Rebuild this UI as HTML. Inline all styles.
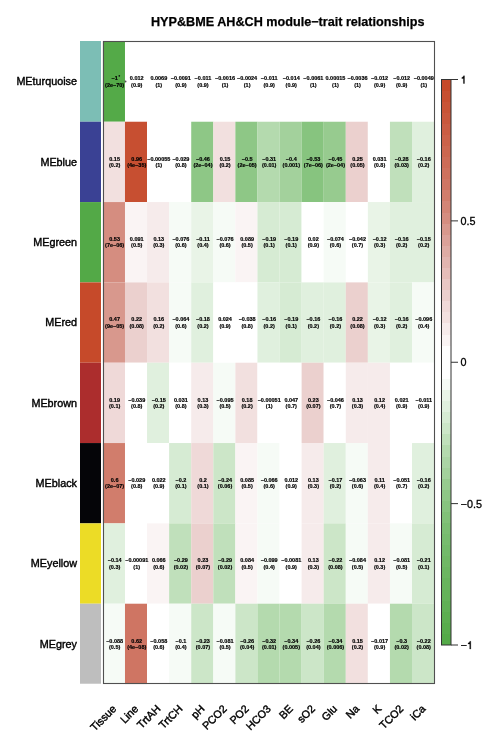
<!DOCTYPE html><html><head><meta charset="utf-8"><style>html,body{margin:0;padding:0;background:#fff;}svg{display:block;will-change:transform;}text{font-family:"Liberation Sans",sans-serif;}</style></head><body><svg width="499" height="747" viewBox="0 0 499 747"><rect width="499" height="747" fill="#fff"/><text x="151" y="26.3" font-size="12.64" font-weight="bold" fill="#000" stroke="#000" stroke-width="0.25">HYP&amp;BME AH&amp;CH module−trait relationships</text><rect x="80" y="41.00" width="21" height="80.73" fill="#7cbeb5"/><rect x="80" y="121.73" width="21" height="80.33" fill="#3a4194"/><rect x="80" y="202.06" width="21" height="80.33" fill="#53a947"/><rect x="80" y="282.39" width="21" height="80.33" fill="#c64a2a"/><rect x="80" y="362.72" width="21" height="80.33" fill="#ac2d2d"/><rect x="80" y="443.05" width="21" height="80.33" fill="#050508"/><rect x="80" y="523.38" width="21" height="80.33" fill="#ecdc26"/><rect x="80" y="603.71" width="21" height="80.03" fill="#bebebe"/><rect x="102.90" y="41.40" width="22.10" height="80.35" fill="#54aa48"/><rect x="124.98" y="41.40" width="22.10" height="80.35" fill="#ffffff"/><rect x="147.06" y="41.40" width="22.10" height="80.35" fill="#ffffff"/><rect x="169.14" y="41.40" width="22.10" height="80.35" fill="#ffffff"/><rect x="191.22" y="41.40" width="22.10" height="80.35" fill="#ffffff"/><rect x="213.30" y="41.40" width="22.10" height="80.35" fill="#ffffff"/><rect x="235.38" y="41.40" width="22.10" height="80.35" fill="#ffffff"/><rect x="257.46" y="41.40" width="22.10" height="80.35" fill="#ffffff"/><rect x="279.54" y="41.40" width="22.10" height="80.35" fill="#ffffff"/><rect x="301.62" y="41.40" width="22.10" height="80.35" fill="#ffffff"/><rect x="323.70" y="41.40" width="22.10" height="80.35" fill="#ffffff"/><rect x="345.78" y="41.40" width="22.10" height="80.35" fill="#ffffff"/><rect x="367.86" y="41.40" width="22.10" height="80.35" fill="#ffffff"/><rect x="389.94" y="41.40" width="22.10" height="80.35" fill="#ffffff"/><rect x="412.02" y="41.40" width="22.10" height="80.35" fill="#ffffff"/><rect x="102.90" y="121.73" width="22.10" height="80.35" fill="#f2e0df"/><rect x="124.98" y="121.73" width="22.10" height="80.35" fill="#c74f31"/><rect x="147.06" y="121.73" width="22.10" height="80.35" fill="#ffffff"/><rect x="169.14" y="121.73" width="22.10" height="80.35" fill="#ffffff"/><rect x="191.22" y="121.73" width="22.10" height="80.35" fill="#8ec786"/><rect x="213.30" y="121.73" width="22.10" height="80.35" fill="#f2e0df"/><rect x="235.38" y="121.73" width="22.10" height="80.35" fill="#8ec786"/><rect x="257.46" y="121.73" width="22.10" height="80.35" fill="#b4daae"/><rect x="279.54" y="121.73" width="22.10" height="80.35" fill="#a3d19c"/><rect x="301.62" y="121.73" width="22.10" height="80.35" fill="#87c47f"/><rect x="323.70" y="121.73" width="22.10" height="80.35" fill="#97cb8f"/><rect x="345.78" y="121.73" width="22.10" height="80.35" fill="#ebd0ce"/><rect x="367.86" y="121.73" width="22.10" height="80.35" fill="#ffffff"/><rect x="389.94" y="121.73" width="22.10" height="80.35" fill="#c0e0bb"/><rect x="412.02" y="121.73" width="22.10" height="80.35" fill="#e0f0de"/><rect x="102.90" y="202.06" width="22.10" height="80.35" fill="#d58d80"/><rect x="124.98" y="202.06" width="22.10" height="80.35" fill="#faf4f4"/><rect x="147.06" y="202.06" width="22.10" height="80.35" fill="#f6ebeb"/><rect x="169.14" y="202.06" width="22.10" height="80.35" fill="#f6fbf6"/><rect x="191.22" y="202.06" width="22.10" height="80.35" fill="#e9f4e7"/><rect x="213.30" y="202.06" width="22.10" height="80.35" fill="#f6fbf6"/><rect x="235.38" y="202.06" width="22.10" height="80.35" fill="#faf4f4"/><rect x="257.46" y="202.06" width="22.10" height="80.35" fill="#d6ebd3"/><rect x="279.54" y="202.06" width="22.10" height="80.35" fill="#d6ebd3"/><rect x="301.62" y="202.06" width="22.10" height="80.35" fill="#ffffff"/><rect x="323.70" y="202.06" width="22.10" height="80.35" fill="#f6fbf6"/><rect x="345.78" y="202.06" width="22.10" height="80.35" fill="#ffffff"/><rect x="367.86" y="202.06" width="22.10" height="80.35" fill="#e9f4e7"/><rect x="389.94" y="202.06" width="22.10" height="80.35" fill="#e0f0de"/><rect x="412.02" y="202.06" width="22.10" height="80.35" fill="#e0f0de"/><rect x="102.90" y="282.39" width="22.10" height="80.35" fill="#d8988d"/><rect x="124.98" y="282.39" width="22.10" height="80.35" fill="#ebd0ce"/><rect x="147.06" y="282.39" width="22.10" height="80.35" fill="#f2e0df"/><rect x="169.14" y="282.39" width="22.10" height="80.35" fill="#f6fbf6"/><rect x="191.22" y="282.39" width="22.10" height="80.35" fill="#e0f0de"/><rect x="213.30" y="282.39" width="22.10" height="80.35" fill="#ffffff"/><rect x="235.38" y="282.39" width="22.10" height="80.35" fill="#ffffff"/><rect x="257.46" y="282.39" width="22.10" height="80.35" fill="#e0f0de"/><rect x="279.54" y="282.39" width="22.10" height="80.35" fill="#d6ebd3"/><rect x="301.62" y="282.39" width="22.10" height="80.35" fill="#e0f0de"/><rect x="323.70" y="282.39" width="22.10" height="80.35" fill="#e0f0de"/><rect x="345.78" y="282.39" width="22.10" height="80.35" fill="#ebd0ce"/><rect x="367.86" y="282.39" width="22.10" height="80.35" fill="#e9f4e7"/><rect x="389.94" y="282.39" width="22.10" height="80.35" fill="#e0f0de"/><rect x="412.02" y="282.39" width="22.10" height="80.35" fill="#f6fbf6"/><rect x="102.90" y="362.72" width="22.10" height="80.35" fill="#efd9d8"/><rect x="124.98" y="362.72" width="22.10" height="80.35" fill="#ffffff"/><rect x="147.06" y="362.72" width="22.10" height="80.35" fill="#e0f0de"/><rect x="169.14" y="362.72" width="22.10" height="80.35" fill="#ffffff"/><rect x="191.22" y="362.72" width="22.10" height="80.35" fill="#f6ebeb"/><rect x="213.30" y="362.72" width="22.10" height="80.35" fill="#f6fbf6"/><rect x="235.38" y="362.72" width="22.10" height="80.35" fill="#f2e0df"/><rect x="257.46" y="362.72" width="22.10" height="80.35" fill="#ffffff"/><rect x="279.54" y="362.72" width="22.10" height="80.35" fill="#ffffff"/><rect x="301.62" y="362.72" width="22.10" height="80.35" fill="#ebd0ce"/><rect x="323.70" y="362.72" width="22.10" height="80.35" fill="#ffffff"/><rect x="345.78" y="362.72" width="22.10" height="80.35" fill="#f6ebeb"/><rect x="367.86" y="362.72" width="22.10" height="80.35" fill="#f6ebeb"/><rect x="389.94" y="362.72" width="22.10" height="80.35" fill="#ffffff"/><rect x="412.02" y="362.72" width="22.10" height="80.35" fill="#ffffff"/><rect x="102.90" y="443.05" width="22.10" height="80.35" fill="#d17d6c"/><rect x="124.98" y="443.05" width="22.10" height="80.35" fill="#ffffff"/><rect x="147.06" y="443.05" width="22.10" height="80.35" fill="#ffffff"/><rect x="169.14" y="443.05" width="22.10" height="80.35" fill="#d6ebd3"/><rect x="191.22" y="443.05" width="22.10" height="80.35" fill="#efd9d8"/><rect x="213.30" y="443.05" width="22.10" height="80.35" fill="#cce6c8"/><rect x="235.38" y="443.05" width="22.10" height="80.35" fill="#faf4f4"/><rect x="257.46" y="443.05" width="22.10" height="80.35" fill="#f6fbf6"/><rect x="279.54" y="443.05" width="22.10" height="80.35" fill="#ffffff"/><rect x="301.62" y="443.05" width="22.10" height="80.35" fill="#f6ebeb"/><rect x="323.70" y="443.05" width="22.10" height="80.35" fill="#e0f0de"/><rect x="345.78" y="443.05" width="22.10" height="80.35" fill="#f6fbf6"/><rect x="367.86" y="443.05" width="22.10" height="80.35" fill="#f6ebeb"/><rect x="389.94" y="443.05" width="22.10" height="80.35" fill="#ffffff"/><rect x="412.02" y="443.05" width="22.10" height="80.35" fill="#e0f0de"/><rect x="102.90" y="523.38" width="22.10" height="80.35" fill="#e0f0de"/><rect x="124.98" y="523.38" width="22.10" height="80.35" fill="#ffffff"/><rect x="147.06" y="523.38" width="22.10" height="80.35" fill="#faf4f4"/><rect x="169.14" y="523.38" width="22.10" height="80.35" fill="#c0e0bb"/><rect x="191.22" y="523.38" width="22.10" height="80.35" fill="#ebd0ce"/><rect x="213.30" y="523.38" width="22.10" height="80.35" fill="#c0e0bb"/><rect x="235.38" y="523.38" width="22.10" height="80.35" fill="#faf4f4"/><rect x="257.46" y="523.38" width="22.10" height="80.35" fill="#f6fbf6"/><rect x="279.54" y="523.38" width="22.10" height="80.35" fill="#ffffff"/><rect x="301.62" y="523.38" width="22.10" height="80.35" fill="#f6ebeb"/><rect x="323.70" y="523.38" width="22.10" height="80.35" fill="#cce6c8"/><rect x="345.78" y="523.38" width="22.10" height="80.35" fill="#f6fbf6"/><rect x="367.86" y="523.38" width="22.10" height="80.35" fill="#f6ebeb"/><rect x="389.94" y="523.38" width="22.10" height="80.35" fill="#f6fbf6"/><rect x="412.02" y="523.38" width="22.10" height="80.35" fill="#d6ebd3"/><rect x="102.90" y="603.71" width="22.10" height="80.35" fill="#f6fbf6"/><rect x="124.98" y="603.71" width="22.10" height="80.35" fill="#cf7563"/><rect x="147.06" y="603.71" width="22.10" height="80.35" fill="#ffffff"/><rect x="169.14" y="603.71" width="22.10" height="80.35" fill="#f6fbf6"/><rect x="191.22" y="603.71" width="22.10" height="80.35" fill="#cce6c8"/><rect x="213.30" y="603.71" width="22.10" height="80.35" fill="#f6fbf6"/><rect x="235.38" y="603.71" width="22.10" height="80.35" fill="#cce6c8"/><rect x="257.46" y="603.71" width="22.10" height="80.35" fill="#b4daae"/><rect x="279.54" y="603.71" width="22.10" height="80.35" fill="#b4daae"/><rect x="301.62" y="603.71" width="22.10" height="80.35" fill="#cce6c8"/><rect x="323.70" y="603.71" width="22.10" height="80.35" fill="#b4daae"/><rect x="345.78" y="603.71" width="22.10" height="80.35" fill="#f2e0df"/><rect x="367.86" y="603.71" width="22.10" height="80.35" fill="#ffffff"/><rect x="389.94" y="603.71" width="22.10" height="80.35" fill="#b4daae"/><rect x="412.02" y="603.71" width="22.10" height="80.35" fill="#cce6c8"/><g font-size="5.5" font-weight="bold" fill="#000" stroke="#000" stroke-width="0.18" text-anchor="middle"><text x="114.64" y="80.27">−1</text><text x="114.64" y="86.56">(2e−70)</text><text x="136.72" y="80.27">0.012</text><text x="136.72" y="86.56">(0.9)</text><text x="158.80" y="80.27">0.0069</text><text x="158.80" y="86.56">(1)</text><text x="180.88" y="80.27">−0.0091</text><text x="180.88" y="86.56">(0.9)</text><text x="202.96" y="80.27">−0.011</text><text x="202.96" y="86.56">(0.9)</text><text x="225.04" y="80.27">−0.0016</text><text x="225.04" y="86.56">(1)</text><text x="247.12" y="80.27">−0.0024</text><text x="247.12" y="86.56">(1)</text><text x="269.20" y="80.27">−0.011</text><text x="269.20" y="86.56">(0.9)</text><text x="291.28" y="80.27">−0.014</text><text x="291.28" y="86.56">(0.9)</text><text x="313.36" y="80.27">−0.0061</text><text x="313.36" y="86.56">(1)</text><text x="335.44" y="80.27">0.00015</text><text x="335.44" y="86.56">(1)</text><text x="357.52" y="80.27">−0.0036</text><text x="357.52" y="86.56">(1)</text><text x="379.60" y="80.27">−0.012</text><text x="379.60" y="86.56">(0.9)</text><text x="401.68" y="80.27">−0.012</text><text x="401.68" y="86.56">(0.9)</text><text x="423.76" y="80.27">−0.0049</text><text x="423.76" y="86.56">(1)</text><text x="114.64" y="160.59">0.15</text><text x="114.64" y="166.90">(0.2)</text><text x="136.72" y="160.59">0.96</text><text x="136.72" y="166.90">(4e−35)</text><text x="158.80" y="160.59">−0.00055</text><text x="158.80" y="166.90">(1)</text><text x="180.88" y="160.59">−0.029</text><text x="180.88" y="166.90">(0.8)</text><text x="202.96" y="160.59">−0.46</text><text x="202.96" y="166.90">(2e−04)</text><text x="225.04" y="160.59">0.15</text><text x="225.04" y="166.90">(0.2)</text><text x="247.12" y="160.59">−0.5</text><text x="247.12" y="166.90">(2e−05)</text><text x="269.20" y="160.59">−0.31</text><text x="269.20" y="166.90">(0.01)</text><text x="291.28" y="160.59">−0.4</text><text x="291.28" y="166.90">(0.001)</text><text x="313.36" y="160.59">−0.53</text><text x="313.36" y="166.90">(7e−06)</text><text x="335.44" y="160.59">−0.45</text><text x="335.44" y="166.90">(2e−04)</text><text x="357.52" y="160.59">0.25</text><text x="357.52" y="166.90">(0.05)</text><text x="379.60" y="160.59">0.031</text><text x="379.60" y="166.90">(0.8)</text><text x="401.68" y="160.59">−0.28</text><text x="401.68" y="166.90">(0.03)</text><text x="423.76" y="160.59">−0.16</text><text x="423.76" y="166.90">(0.2)</text><text x="114.64" y="240.92">0.53</text><text x="114.64" y="247.22">(7e−06)</text><text x="136.72" y="240.92">0.091</text><text x="136.72" y="247.22">(0.5)</text><text x="158.80" y="240.92">0.13</text><text x="158.80" y="247.22">(0.3)</text><text x="180.88" y="240.92">−0.076</text><text x="180.88" y="247.22">(0.6)</text><text x="202.96" y="240.92">−0.11</text><text x="202.96" y="247.22">(0.4)</text><text x="225.04" y="240.92">−0.076</text><text x="225.04" y="247.22">(0.6)</text><text x="247.12" y="240.92">0.089</text><text x="247.12" y="247.22">(0.5)</text><text x="269.20" y="240.92">−0.19</text><text x="269.20" y="247.22">(0.1)</text><text x="291.28" y="240.92">−0.19</text><text x="291.28" y="247.22">(0.1)</text><text x="313.36" y="240.92">0.02</text><text x="313.36" y="247.22">(0.9)</text><text x="335.44" y="240.92">−0.074</text><text x="335.44" y="247.22">(0.6)</text><text x="357.52" y="240.92">−0.042</text><text x="357.52" y="247.22">(0.7)</text><text x="379.60" y="240.92">−0.12</text><text x="379.60" y="247.22">(0.3)</text><text x="401.68" y="240.92">−0.16</text><text x="401.68" y="247.22">(0.2)</text><text x="423.76" y="240.92">−0.15</text><text x="423.76" y="247.22">(0.2)</text><text x="114.64" y="321.25">0.47</text><text x="114.64" y="327.55">(9e−05)</text><text x="136.72" y="321.25">0.22</text><text x="136.72" y="327.55">(0.08)</text><text x="158.80" y="321.25">0.16</text><text x="158.80" y="327.55">(0.2)</text><text x="180.88" y="321.25">−0.064</text><text x="180.88" y="327.55">(0.6)</text><text x="202.96" y="321.25">−0.18</text><text x="202.96" y="327.55">(0.2)</text><text x="225.04" y="321.25">0.024</text><text x="225.04" y="327.55">(0.9)</text><text x="247.12" y="321.25">−0.038</text><text x="247.12" y="327.55">(0.8)</text><text x="269.20" y="321.25">−0.16</text><text x="269.20" y="327.55">(0.2)</text><text x="291.28" y="321.25">−0.19</text><text x="291.28" y="327.55">(0.1)</text><text x="313.36" y="321.25">−0.16</text><text x="313.36" y="327.55">(0.2)</text><text x="335.44" y="321.25">−0.16</text><text x="335.44" y="327.55">(0.2)</text><text x="357.52" y="321.25">0.22</text><text x="357.52" y="327.55">(0.08)</text><text x="379.60" y="321.25">−0.12</text><text x="379.60" y="327.55">(0.3)</text><text x="401.68" y="321.25">−0.16</text><text x="401.68" y="327.55">(0.2)</text><text x="423.76" y="321.25">−0.096</text><text x="423.76" y="327.55">(0.4)</text><text x="114.64" y="401.58">0.19</text><text x="114.64" y="407.88">(0.1)</text><text x="136.72" y="401.58">−0.039</text><text x="136.72" y="407.88">(0.8)</text><text x="158.80" y="401.58">−0.15</text><text x="158.80" y="407.88">(0.2)</text><text x="180.88" y="401.58">0.031</text><text x="180.88" y="407.88">(0.8)</text><text x="202.96" y="401.58">0.13</text><text x="202.96" y="407.88">(0.3)</text><text x="225.04" y="401.58">−0.095</text><text x="225.04" y="407.88">(0.5)</text><text x="247.12" y="401.58">0.18</text><text x="247.12" y="407.88">(0.2)</text><text x="269.20" y="401.58">−0.00051</text><text x="269.20" y="407.88">(1)</text><text x="291.28" y="401.58">0.047</text><text x="291.28" y="407.88">(0.7)</text><text x="313.36" y="401.58">0.23</text><text x="313.36" y="407.88">(0.07)</text><text x="335.44" y="401.58">−0.046</text><text x="335.44" y="407.88">(0.7)</text><text x="357.52" y="401.58">0.13</text><text x="357.52" y="407.88">(0.3)</text><text x="379.60" y="401.58">0.12</text><text x="379.60" y="407.88">(0.4)</text><text x="401.68" y="401.58">0.021</text><text x="401.68" y="407.88">(0.9)</text><text x="423.76" y="401.58">−0.011</text><text x="423.76" y="407.88">(0.9)</text><text x="114.64" y="481.91">0.6</text><text x="114.64" y="488.21">(2e−07)</text><text x="136.72" y="481.91">−0.029</text><text x="136.72" y="488.21">(0.8)</text><text x="158.80" y="481.91">0.022</text><text x="158.80" y="488.21">(0.9)</text><text x="180.88" y="481.91">−0.2</text><text x="180.88" y="488.21">(0.1)</text><text x="202.96" y="481.91">0.2</text><text x="202.96" y="488.21">(0.1)</text><text x="225.04" y="481.91">−0.24</text><text x="225.04" y="488.21">(0.06)</text><text x="247.12" y="481.91">0.085</text><text x="247.12" y="488.21">(0.5)</text><text x="269.20" y="481.91">−0.066</text><text x="269.20" y="488.21">(0.6)</text><text x="291.28" y="481.91">0.012</text><text x="291.28" y="488.21">(0.9)</text><text x="313.36" y="481.91">0.13</text><text x="313.36" y="488.21">(0.3)</text><text x="335.44" y="481.91">−0.17</text><text x="335.44" y="488.21">(0.2)</text><text x="357.52" y="481.91">−0.063</text><text x="357.52" y="488.21">(0.6)</text><text x="379.60" y="481.91">0.11</text><text x="379.60" y="488.21">(0.4)</text><text x="401.68" y="481.91">−0.051</text><text x="401.68" y="488.21">(0.7)</text><text x="423.76" y="481.91">−0.16</text><text x="423.76" y="488.21">(0.2)</text><text x="114.64" y="562.25">−0.14</text><text x="114.64" y="568.54">(0.3)</text><text x="136.72" y="562.25">−0.00091</text><text x="136.72" y="568.54">(1)</text><text x="158.80" y="562.25">0.066</text><text x="158.80" y="568.54">(0.6)</text><text x="180.88" y="562.25">−0.29</text><text x="180.88" y="568.54">(0.02)</text><text x="202.96" y="562.25">0.23</text><text x="202.96" y="568.54">(0.07)</text><text x="225.04" y="562.25">−0.29</text><text x="225.04" y="568.54">(0.02)</text><text x="247.12" y="562.25">0.084</text><text x="247.12" y="568.54">(0.5)</text><text x="269.20" y="562.25">−0.099</text><text x="269.20" y="568.54">(0.4)</text><text x="291.28" y="562.25">−0.0081</text><text x="291.28" y="568.54">(0.9)</text><text x="313.36" y="562.25">0.13</text><text x="313.36" y="568.54">(0.3)</text><text x="335.44" y="562.25">−0.22</text><text x="335.44" y="568.54">(0.08)</text><text x="357.52" y="562.25">−0.084</text><text x="357.52" y="568.54">(0.5)</text><text x="379.60" y="562.25">0.12</text><text x="379.60" y="568.54">(0.3)</text><text x="401.68" y="562.25">−0.081</text><text x="401.68" y="568.54">(0.5)</text><text x="423.76" y="562.25">−0.21</text><text x="423.76" y="568.54">(0.1)</text><text x="114.64" y="642.58">−0.088</text><text x="114.64" y="648.88">(0.5)</text><text x="136.72" y="642.58">0.62</text><text x="136.72" y="648.88">(4e−08)</text><text x="158.80" y="642.58">−0.058</text><text x="158.80" y="648.88">(0.6)</text><text x="180.88" y="642.58">−0.1</text><text x="180.88" y="648.88">(0.4)</text><text x="202.96" y="642.58">−0.23</text><text x="202.96" y="648.88">(0.07)</text><text x="225.04" y="642.58">−0.081</text><text x="225.04" y="648.88">(0.5)</text><text x="247.12" y="642.58">−0.26</text><text x="247.12" y="648.88">(0.04)</text><text x="269.20" y="642.58">−0.32</text><text x="269.20" y="648.88">(0.01)</text><text x="291.28" y="642.58">−0.34</text><text x="291.28" y="648.88">(0.005)</text><text x="313.36" y="642.58">−0.26</text><text x="313.36" y="648.88">(0.04)</text><text x="335.44" y="642.58">−0.34</text><text x="335.44" y="648.88">(0.006)</text><text x="357.52" y="642.58">0.15</text><text x="357.52" y="648.88">(0.2)</text><text x="379.60" y="642.58">−0.017</text><text x="379.60" y="648.88">(0.9)</text><text x="401.68" y="642.58">−0.3</text><text x="401.68" y="648.88">(0.02)</text><text x="423.76" y="642.58">−0.22</text><text x="423.76" y="648.88">(0.08)</text></g><circle cx="119.3" cy="75.8" r="0.85" fill="#111"/><circle cx="125.5" cy="81.6" r="1.0" fill="#555"/><rect x="103.5" y="41.5" width="331" height="642" fill="none" stroke="#505050" stroke-width="1.1"/><g font-size="10.8" fill="#000" stroke="#000" stroke-width="0.4" text-anchor="end"><text x="77" y="85.47">MEturquoise</text><text x="77" y="165.80">MEblue</text><text x="77" y="246.12">MEgreen</text><text x="77" y="326.45">MEred</text><text x="77" y="406.78">MEbrown</text><text x="77" y="487.11">MEblack</text><text x="77" y="567.44">MEyellow</text><text x="77" y="647.77">MEgrey</text></g><g font-size="10.8" fill="#000" stroke="#000" stroke-width="0.4" text-anchor="end"><text transform="translate(117.04,709.5) rotate(-45)" x="0" y="0">Tissue</text><text transform="translate(139.12,709.5) rotate(-45)" x="0" y="0">Line</text><text transform="translate(161.20,709.5) rotate(-45)" x="0" y="0">TrtAH</text><text transform="translate(183.28,709.5) rotate(-45)" x="0" y="0">TrtCH</text><text transform="translate(205.36,709.5) rotate(-45)" x="0" y="0">pH</text><text transform="translate(227.44,709.5) rotate(-45)" x="0" y="0">PCO2</text><text transform="translate(249.52,709.5) rotate(-45)" x="0" y="0">PO2</text><text transform="translate(271.60,709.5) rotate(-45)" x="0" y="0">HCO3</text><text transform="translate(293.68,709.5) rotate(-45)" x="0" y="0">BE</text><text transform="translate(315.76,709.5) rotate(-45)" x="0" y="0">sO2</text><text transform="translate(337.84,709.5) rotate(-45)" x="0" y="0">Glu</text><text transform="translate(359.92,709.5) rotate(-45)" x="0" y="0">Na</text><text transform="translate(382.00,709.5) rotate(-45)" x="0" y="0">K</text><text transform="translate(404.08,709.5) rotate(-45)" x="0" y="0">TCO2</text><text transform="translate(426.16,709.5) rotate(-45)" x="0" y="0">iCa</text></g><defs><linearGradient id="lg" x1="0" y1="1" x2="0" y2="0"><stop offset="0.0000" stop-color="#54aa48"/><stop offset="0.0196" stop-color="#54aa48"/><stop offset="0.0196" stop-color="#58ac4c"/><stop offset="0.0392" stop-color="#58ac4c"/><stop offset="0.0392" stop-color="#5cae50"/><stop offset="0.0588" stop-color="#5cae50"/><stop offset="0.0588" stop-color="#60b055"/><stop offset="0.0784" stop-color="#60b055"/><stop offset="0.0784" stop-color="#64b259"/><stop offset="0.0980" stop-color="#64b259"/><stop offset="0.0980" stop-color="#68b45d"/><stop offset="0.1176" stop-color="#68b45d"/><stop offset="0.1176" stop-color="#6cb661"/><stop offset="0.1373" stop-color="#6cb661"/><stop offset="0.1373" stop-color="#70b865"/><stop offset="0.1569" stop-color="#70b865"/><stop offset="0.1569" stop-color="#73ba6a"/><stop offset="0.1765" stop-color="#73ba6a"/><stop offset="0.1765" stop-color="#77bc6e"/><stop offset="0.1961" stop-color="#77bc6e"/><stop offset="0.1961" stop-color="#7bbe72"/><stop offset="0.2157" stop-color="#7bbe72"/><stop offset="0.2157" stop-color="#81c178"/><stop offset="0.2353" stop-color="#81c178"/><stop offset="0.2353" stop-color="#87c47f"/><stop offset="0.2549" stop-color="#87c47f"/><stop offset="0.2549" stop-color="#8ec786"/><stop offset="0.2745" stop-color="#8ec786"/><stop offset="0.2745" stop-color="#97cb8f"/><stop offset="0.2941" stop-color="#97cb8f"/><stop offset="0.2941" stop-color="#a3d19c"/><stop offset="0.3137" stop-color="#a3d19c"/><stop offset="0.3137" stop-color="#abd5a5"/><stop offset="0.3333" stop-color="#abd5a5"/><stop offset="0.3333" stop-color="#b4daae"/><stop offset="0.3529" stop-color="#b4daae"/><stop offset="0.3529" stop-color="#c0e0bb"/><stop offset="0.3725" stop-color="#c0e0bb"/><stop offset="0.3725" stop-color="#cce6c8"/><stop offset="0.3922" stop-color="#cce6c8"/><stop offset="0.3922" stop-color="#d6ebd3"/><stop offset="0.4118" stop-color="#d6ebd3"/><stop offset="0.4118" stop-color="#e0f0de"/><stop offset="0.4314" stop-color="#e0f0de"/><stop offset="0.4314" stop-color="#e9f4e7"/><stop offset="0.4510" stop-color="#e9f4e7"/><stop offset="0.4510" stop-color="#f6fbf6"/><stop offset="0.4706" stop-color="#f6fbf6"/><stop offset="0.4706" stop-color="#ffffff"/><stop offset="0.4902" stop-color="#ffffff"/><stop offset="0.4902" stop-color="#ffffff"/><stop offset="0.5098" stop-color="#ffffff"/><stop offset="0.5098" stop-color="#ffffff"/><stop offset="0.5294" stop-color="#ffffff"/><stop offset="0.5294" stop-color="#faf4f4"/><stop offset="0.5490" stop-color="#faf4f4"/><stop offset="0.5490" stop-color="#f6ebeb"/><stop offset="0.5686" stop-color="#f6ebeb"/><stop offset="0.5686" stop-color="#f2e0df"/><stop offset="0.5882" stop-color="#f2e0df"/><stop offset="0.5882" stop-color="#efd9d8"/><stop offset="0.6078" stop-color="#efd9d8"/><stop offset="0.6078" stop-color="#ebd0ce"/><stop offset="0.6275" stop-color="#ebd0ce"/><stop offset="0.6275" stop-color="#e8c7c4"/><stop offset="0.6471" stop-color="#e8c7c4"/><stop offset="0.6471" stop-color="#e5bdb9"/><stop offset="0.6667" stop-color="#e5bdb9"/><stop offset="0.6667" stop-color="#e1b4af"/><stop offset="0.6863" stop-color="#e1b4af"/><stop offset="0.6863" stop-color="#deaba4"/><stop offset="0.7059" stop-color="#deaba4"/><stop offset="0.7059" stop-color="#dba199"/><stop offset="0.7255" stop-color="#dba199"/><stop offset="0.7255" stop-color="#d8988d"/><stop offset="0.7451" stop-color="#d8988d"/><stop offset="0.7451" stop-color="#d58d80"/><stop offset="0.7647" stop-color="#d58d80"/><stop offset="0.7647" stop-color="#d38576"/><stop offset="0.7843" stop-color="#d38576"/><stop offset="0.7843" stop-color="#d17d6c"/><stop offset="0.8039" stop-color="#d17d6c"/><stop offset="0.8039" stop-color="#cf7563"/><stop offset="0.8235" stop-color="#cf7563"/><stop offset="0.8235" stop-color="#ce715d"/><stop offset="0.8431" stop-color="#ce715d"/><stop offset="0.8431" stop-color="#cd6c57"/><stop offset="0.8627" stop-color="#cd6c57"/><stop offset="0.8627" stop-color="#cc6750"/><stop offset="0.8824" stop-color="#cc6750"/><stop offset="0.8824" stop-color="#cb624a"/><stop offset="0.9020" stop-color="#cb624a"/><stop offset="0.9020" stop-color="#ca5d44"/><stop offset="0.9216" stop-color="#ca5d44"/><stop offset="0.9216" stop-color="#c9583d"/><stop offset="0.9412" stop-color="#c9583d"/><stop offset="0.9412" stop-color="#c85437"/><stop offset="0.9608" stop-color="#c85437"/><stop offset="0.9608" stop-color="#c74f31"/><stop offset="0.9804" stop-color="#c74f31"/><stop offset="0.9804" stop-color="#c64a2a"/><stop offset="1.0000" stop-color="#c64a2a"/></linearGradient></defs><rect x="441.5" y="79.50" width="9.5" height="565.50" fill="url(#lg)" stroke="#333" stroke-width="1"/><g stroke="#333" stroke-width="1"><line x1="451" y1="79.50" x2="458" y2="79.50"/><line x1="451" y1="220.88" x2="458" y2="220.88"/><line x1="451" y1="362.25" x2="458" y2="362.25"/><line x1="451" y1="503.62" x2="458" y2="503.62"/><line x1="451" y1="645.00" x2="458" y2="645.00"/></g><g font-size="10.8" fill="#000" stroke="#000" stroke-width="0.3"><path transform="translate(460.60,83.50) scale(0.0108,-0.0108)" d="M357 0L262 0L262 470L112 470L112 545C200 556 252 610 274 709L357 709Z" stroke-width="28"/><text x="460.6" y="224.88">0.5</text><text x="460.6" y="366.25">0</text><text x="460.6" y="507.62">−0.5</text><text x="460.6" y="649.00">−</text><path transform="translate(466.91,649.00) scale(0.0108,-0.0108)" d="M357 0L262 0L262 470L112 470L112 545C200 556 252 610 274 709L357 709Z" stroke-width="28"/></g></svg></body></html>
